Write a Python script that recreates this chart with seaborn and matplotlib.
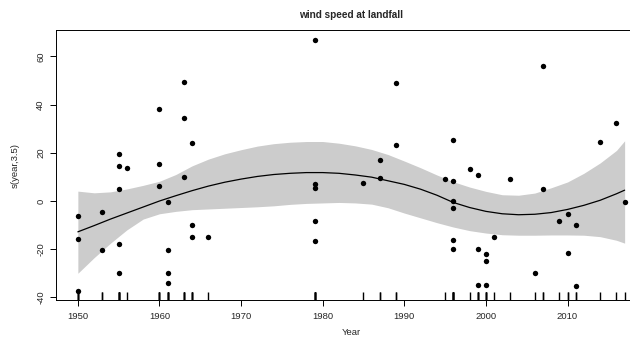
import numpy as np
import pandas as pd
import seaborn as sns
import matplotlib.pyplot as plt

# partial residuals (year, value)
point_year = [1950, 1950, 1950, 1953, 1953,
              1955, 1955, 1955, 1955, 1955, 1956,
              1960, 1960, 1960, 1961, 1961, 1961, 1961,
              1963, 1963, 1963, 1964, 1964, 1964, 1966,
              1979, 1979, 1979, 1979, 1979, 1985, 1987, 1987, 1989, 1989,
              1995, 1996, 1996, 1996, 1996, 1996, 1996, 1998,
              1999, 1999, 1999, 2000, 2000, 2000, 2001, 2003, 2006,
              2007, 2007, 2009, 2010, 2010, 2011, 2011, 2014, 2016, 2017]
point_value = [-6.4, -15.8, -37.2, -4.6, -20.2,
               19.5, 14.6, 4.8, -18.0, -30.0, 13.8,
               38.2, 15.5, 6.4, -0.3, -20.2, -30.0, -34.0,
               49.4, 34.4, 9.8, 24.2, -10.0, -15.0, -15.0,
               66.7, 7.2, 5.4, -8.3, -16.6, 7.6, 17.1, 9.4, 49.0, 23.2,
               9.0, 25.2, 8.3, -0.2, -2.7, -16.3, -20.1, 13.4,
               10.7, -20.0, -34.7, -21.9, -25.0, -34.7, -15.0, 9.0, -30.0,
               55.9, 5.0, -8.2, -5.3, -21.4, -10.1, -35.1, 24.4, 32.5, -0.3]

# smooth s(year, 3.5) with its confidence band
fit_year = [1950, 1952, 1954, 1956, 1958, 1960, 1962, 1964, 1966, 1968,
            1970, 1972, 1974, 1976, 1978, 1980, 1982, 1984, 1986, 1988,
            1990, 1992, 1994, 1996, 1998, 2000, 2002, 2004, 2006, 2008,
            2010, 2012, 2014, 2016, 2017]
fit_value = [-12.8, -10.2, -7.5, -5.0, -2.5, 0.0, 2.2, 4.3, 6.2, 7.8,
             9.1, 10.2, 11.0, 11.5, 11.8, 11.8, 11.5, 10.8, 9.9, 8.4,
             6.9, 4.9, 2.4, -0.6, -2.7, -4.3, -5.3, -5.7, -5.5, -4.8,
             -3.5, -1.8, 0.3, 3.0, 4.5]
fit_upper = [4.1, 3.4, 3.8, 5.0, 6.5, 8.2, 11.0, 14.6, 17.4, 19.6,
             21.3, 22.8, 23.8, 24.4, 24.7, 24.7, 24.0, 22.9, 21.4, 19.3,
             16.6, 13.8, 10.8, 8.0, 5.8, 4.0, 2.6, 2.4, 3.3, 5.5,
             7.9, 11.5, 15.8, 21.0, 25.0]
fit_lower = [-30.0, -23.5, -17.5, -12.0, -7.5, -5.3, -4.3, -3.6, -3.3, -3.0,
             -2.7, -2.4, -2.0, -1.4, -1.0, -0.8, -0.6, -0.8, -1.3, -2.8,
             -5.0, -7.0, -9.0, -10.8, -12.3, -13.3, -14.0, -14.2, -14.2, -14.1,
             -14.1, -14.2, -14.8, -16.3, -17.5]

x_ticks = [1950, 1960, 1970, 1980, 1990, 2000, 2010]
y_ticks = [-40, -20, 0, 20, 40, 60]

sns.set_style("ticks")
plt.rcParams['font.family'] = ['Liberation Sans', 'DejaVu Sans']

pts = pd.DataFrame({"year": point_year, "value": point_value})
fit = pd.DataFrame({"year": fit_year, "fit": fit_value,
                    "upper": fit_upper, "lower": fit_lower})

fig = plt.figure(figsize=(6.3, 3.37), dpi=100)
# the right edge of the plot box falls outside the picture, as in the original
ax = fig.add_axes([56 / 630, 37 / 337, 590.5 / 630, 270 / 337])

ax.fill_between(fit["year"], fit["lower"], fit["upper"], color="#cccccc", lw=0, zorder=1)
sns.lineplot(data=fit, x="year", y="fit", color="black", lw=0.9, ax=ax, zorder=2)
sns.scatterplot(data=pts, x="year", y="value", color="black", s=15,
                edgecolor="black", linewidth=0, ax=ax, zorder=3)

# rug: heavier ticks where several storms share a year
counts = pts["year"].value_counts()
sns.rugplot(x=pts["year"], height=0.03, color="black", lw=0.7, ax=ax)
sns.rugplot(x=counts[counts >= 3].index.values, height=0.03, color="black", lw=1.4, ax=ax)

ax.set_xlim(1947.32, 2019.68)
ax.set_ylim(-41.1, 71.0)
ax.set_xticks(x_ticks)
ax.set_yticks(y_ticks)
ax.set_yticklabels([str(v) for v in y_ticks], rotation=90, va="center")
ax.tick_params(axis="both", labelsize=6.8, length=4.3, width=0.7, color="black")
ax.tick_params(axis="x", pad=4.5)
ax.tick_params(axis="y", pad=3.5)

for sp in ax.spines.values():
    sp.set_visible(True)
    sp.set_linewidth(0.7)
    sp.set_color("black")

ax.set_xlabel("Year", fontsize=6.8, labelpad=5)
ax.set_ylabel("s(year,3.5)", fontsize=6.8, labelpad=12)
ax.set_title("wind speed at landfall", fontsize=7.2, fontweight="bold", pad=9)

plt.savefig("out.png", dpi=100)
